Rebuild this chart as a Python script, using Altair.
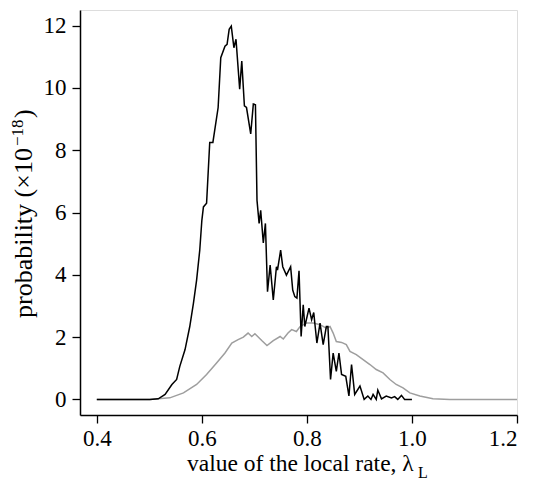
import altair as alt
import pandas as pd

# black curve (local rate distribution)
black_x = [0.400, 0.501, 0.517, 0.530, 0.543, 0.552, 0.558, 0.568, 0.577, 0.584, 0.590,
           0.596, 0.600, 0.603, 0.609, 0.615, 0.621, 0.631, 0.636, 0.644, 0.648, 0.652,
           0.656, 0.661, 0.665, 0.672, 0.676, 0.681, 0.685, 0.693, 0.698, 0.702, 0.705,
           0.709, 0.712, 0.717, 0.721, 0.725, 0.730, 0.736, 0.742, 0.744, 0.750, 0.754,
           0.761, 0.769, 0.773, 0.777, 0.781, 0.785, 0.789, 0.793, 0.796, 0.804, 0.809,
           0.813, 0.819, 0.825, 0.831, 0.837, 0.840, 0.845, 0.850, 0.856, 0.861, 0.866,
           0.874, 0.880, 0.885, 0.891, 0.901, 0.909, 0.916, 0.922, 0.926, 0.932, 0.935,
           0.942, 0.951, 0.961, 0.967, 0.973, 0.980, 0.986, 0.996, 1.000]
black_y = [0.00, 0.00, 0.02, 0.16, 0.48, 0.64, 1.06, 1.60, 2.34, 3.09, 3.83,
           4.79, 5.75, 6.18, 6.30, 8.25, 8.25, 9.37, 10.97, 11.34, 11.40, 11.88,
           11.98, 11.29, 11.56, 9.96, 10.86, 9.42, 9.37, 8.52, 9.48, 9.46, 6.39,
           5.65, 6.07, 5.02, 5.65, 3.46, 4.31, 3.19, 4.26, 4.15, 4.79, 4.26,
           3.99, 4.26, 3.51, 3.30, 3.25, 4.13, 2.02, 3.04, 2.34, 2.93, 2.56,
           2.79, 1.81, 2.45, 1.76, 2.34, 2.34, 0.64, 1.49, 0.90, 1.49, 0.80,
           0.74, 0.11, 1.12, 0.16, 0.43, 0.00, 0.11, 0.00, 0.16, 0.00, 0.30,
           0.02, 0.11, 0.05, 0.09, 0.00, 0.13, 0.00, 0.00, 0.00]

# grey curve (global rate distribution)
grey_x = [0.400, 0.501, 0.539, 0.565, 0.590, 0.609, 0.628, 0.644, 0.657, 0.669, 0.679,
          0.688, 0.695, 0.701, 0.714, 0.724, 0.736, 0.749, 0.755, 0.764, 0.771, 0.780,
          0.787, 0.799, 0.812, 0.825, 0.837, 0.844, 0.850, 0.856, 0.866, 0.875, 0.882,
          0.894, 0.907, 0.920, 0.932, 0.945, 0.958, 0.970, 0.983, 0.996, 1.015, 1.040,
          1.072, 1.200]
grey_y = [0.00, 0.00, 0.05, 0.21, 0.48, 0.80, 1.17, 1.49, 1.81, 1.92, 2.00,
          2.13, 2.02, 2.11, 1.89, 1.73, 1.89, 2.02, 1.94, 2.13, 2.24, 2.18,
          2.34, 2.45, 2.45, 2.40, 2.29, 2.34, 2.13, 1.86, 1.83, 1.76, 1.54,
          1.44, 1.28, 1.12, 0.96, 0.85, 0.64, 0.48, 0.37, 0.21, 0.11, 0.02,
          0.00, 0.00]

x_ticks = [0.4, 0.6, 0.8, 1.0, 1.2]
y_ticks = [0, 2, 4, 6, 8, 10, 12]

FONT = "Liberation Serif"
FS = 23

df_black = pd.DataFrame({"x": black_x, "y": black_y, "o": range(len(black_x))})
df_grey = pd.DataFrame({"x": grey_x, "y": grey_y, "o": range(len(grey_x))})

xscale = alt.Scale(domain=[0.368, 1.2], nice=False, zero=False)
yscale = alt.Scale(domain=[-0.5, 12.5], nice=False, zero=False)

xaxis = alt.Axis(values=x_ticks, format=".1f", title=None, grid=False,
                 domainColor="black", domainWidth=1.5, tickColor="black",
                 tickSize=8, tickWidth=1.3, labelFont=FONT, labelFontSize=FS,
                 labelColor="black", labelPadding=4)
yaxis = alt.Axis(values=y_ticks, format="d", title=None, grid=False,
                 domainColor="black", domainWidth=1.5, tickColor="black",
                 tickSize=8, tickWidth=1.3, labelFont=FONT, labelFontSize=FS,
                 labelColor="black", labelPadding=6)

grey = alt.Chart(df_grey).mark_line(color="#9e9e9e", strokeWidth=1.5).encode(
    x=alt.X("x:Q", scale=xscale, axis=xaxis),
    y=alt.Y("y:Q", scale=yscale, axis=yaxis),
    order="o:Q",
)
black = alt.Chart(df_black).mark_line(color="black", strokeWidth=1.5).encode(
    x=alt.X("x:Q", scale=xscale),
    y=alt.Y("y:Q", scale=yscale),
    order="o:Q",
)

def txt(s, x, y, size=FS, align="left", angle=0):
    return alt.Chart(pd.DataFrame({"t": [s]})).mark_text(
        font=FONT, fontSize=size, align=align, baseline="alphabetic",
        color="black", angle=angle
    ).encode(x=alt.value(x), y=alt.value(y), text="t:N")

# x-axis title with subscript L
xtitle = txt("value of the local rate, λ", 107, 461, size=23.5)
xsub = txt("L", 338, 468, size=16)
# y-axis title with superscript −18 (rotated)
ytitle = txt("probability (×10", -48, 308, size=26, angle=270)
ysup = txt("−18", -57, 136, size=17, angle=270)
yclose = txt(")", -48, 108, size=26, angle=270)

chart = alt.layer(grey, black, xtitle, xsub, ytitle, ysup, yclose).properties(
    width=437, height=405,
    autosize=alt.AutoSizeParams(type="none"),
    padding={"left": 72, "top": 2, "right": 10, "bottom": 70},
).configure_view(stroke=None).configure(background="white")

chart.save("out.html", embed_options={"renderer": "svg", "actions": False})
